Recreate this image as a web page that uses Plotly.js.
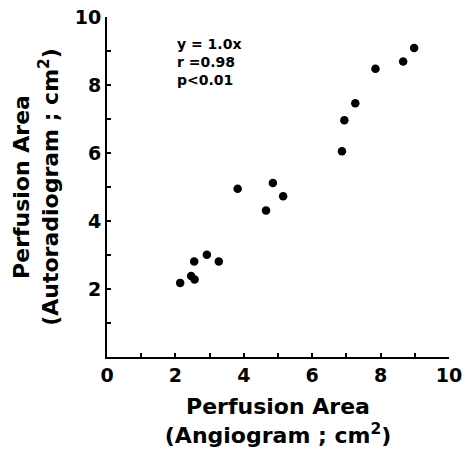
<!DOCTYPE html>
<html><head><meta charset="utf-8">
<script src="https://cdn.plot.ly/plotly-3.0.1.min.js"></script>
<style>html,body{margin:0;padding:0;background:#fff}</style>
</head><body>
<div id="chart" style="width:465px;height:453px"></div>
<script>
const angiogram = [2.14, 2.46, 2.56, 2.55, 2.92, 3.27, 3.82, 4.65, 4.85, 5.15, 6.87, 6.94, 7.26, 7.85, 8.66, 8.98];
const autoradiogram = [2.18, 2.38, 2.28, 2.81, 3.01, 2.81, 4.95, 4.31, 5.12, 4.73, 6.05, 6.96, 7.46, 8.48, 8.69, 9.09];
const tickValues = [0, 1, 2, 3, 4, 5, 6, 7, 8, 9, 10];
const xTickLabels = ["0", "", "2", "", "4", "", "6", "", "8", "", "10"];
const yTickLabels = ["", "", "2", "", "4", "", "6", "", "8", "", "10"];
const statsLines = ["y = 1.0x", "r =0.98", "p<0.01"];

const fontFam = "DejaVu Sans, sans-serif";
const trace = {
  x: angiogram, y: autoradiogram, type: "scatter", mode: "markers",
  marker: {color: "#000", size: 8.5}, hoverinfo: "none"
};
const axisCommon = {
  range: [0, 10], showgrid: false, zeroline: false, showline: true,
  linecolor: "#000", linewidth: 2, ticks: "inside", ticklen: 4, tickwidth: 2, tickcolor: "#000",
  fixedrange: true, tickmode: "array", tickvals: tickValues,
  tickfont: {family: fontFam, size: 19, color: "#000", weight: "bold"}
};
const titleFont = {family: fontFam, size: 22, color: "#000", weight: "bold"};
const layout = {
  width: 465, height: 453,
  margin: {l: 107, r: 16, t: 17, b: 96},
  paper_bgcolor: "#fff", plot_bgcolor: "#fff",
  showlegend: false,
  xaxis: Object.assign({}, axisCommon, {
    ticktext: xTickLabels, ticklabelstandoff: 0,
    title: {text: "Perfusion Area<br>(Angiogram ; cm<sup>2</sup>)", font: titleFont, standoff: 14}
  }),
  yaxis: Object.assign({}, axisCommon, {
    ticktext: yTickLabels,
    title: {text: "Perfusion Area<br>(Autoradiogram ; cm<sup>2</sup>)", font: titleFont, standoff: 10}
  }),
  annotations: [{
    xref: "paper", yref: "paper", x: 0.2, y: 0.95, xanchor: "left", yanchor: "top",
    align: "left", showarrow: false,
    text: statsLines.join("<br>"),
    font: {family: fontFam, size: 14, color: "#000", weight: "bold"}
  }]
};
Plotly.newPlot("chart", [trace], layout, {displayModeBar: false, staticPlot: true});
</script>
</body></html>
